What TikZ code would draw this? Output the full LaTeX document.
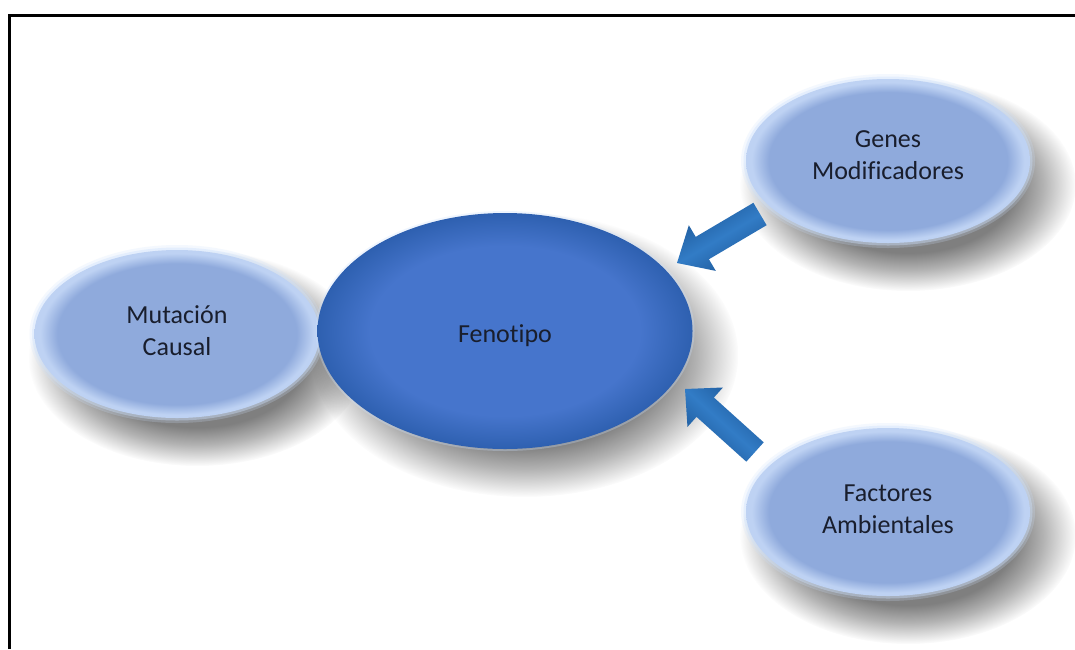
\documentclass[tikz,border=0pt]{standalone}
\usepackage{fontspec}
\setmainfont{Carlito}[Ligatures={NoCommon}]
\usetikzlibrary{shapes.geometric,calc,fadings}

\definecolor{pale}{RGB}{143,170,220}
\definecolor{palerim}{RGB}{190,210,243}
\definecolor{glow}{RGB}{205,225,252}
\definecolor{deep}{RGB}{70,117,204}
\definecolor{deepedge}{RGB}{46,96,176}
\definecolor{arrowblue}{RGB}{50,124,198}
\definecolor{arrowdark}{RGB}{28,86,150}
\definecolor{inktext}{RGB}{25,30,45}

% light bubbles: flat fill with a pale rim
\pgfdeclareradialshading{paleshade}{\pgfpoint{0bp}{0bp}}{%
  color(0bp)=(pale); color(21bp)=(pale); color(24bp)=(palerim);
  color(25bp)=(palerim); color(50bp)=(palerim)}
% central bubble: darker towards the border
\pgfdeclareradialshading{deepshade}{\pgfpoint{0bp}{0bp}}{%
  color(0bp)=(deep); color(18bp)=(deep); color(25bp)=(deepedge);
  color(50bp)=(deepedge)}
% soft, blurred drop shadow
\pgfdeclareradialshading{softshadowshade}{\pgfpoint{0bp}{0bp}}{%
  color(0bp)=(pgftransparent!0); color(16bp)=(pgftransparent!0);
  color(20bp)=(pgftransparent!40); color(25bp)=(pgftransparent!100);
  color(50bp)=(pgftransparent!100)}
\pgfdeclarefading{softshadow}{\pgfuseshading{softshadowshade}}

% block arrow from tail #1 to tip #2, shaded across its width (#3)
\newcommand{\fatarrow}[3]{%
  \coordinate (#1-h) at ($(#1)!67pt!(#2)$);
  \path[arrowbody, shading angle=#3]
    ($(#1)!13pt!90:(#2)$) --
    ($(#1-h)!13pt!90:(#2)$) --
    ($(#1-h)!26.5pt!90:(#2)$) --
    (#2) --
    ($(#1-h)!26.5pt!-90:(#2)$) --
    ($(#1-h)!13pt!-90:(#2)$) --
    ($(#1)!13pt!-90:(#2)$) -- cycle;
}
% shadow cast by a bubble centred at #1, of size #2 x #3
\newcommand{\castshadow}[3]{%
  \fill[black, opacity=0.5, path fading=softshadow]
    ($(#1)+(20,24)$) ellipse [x radius=#2/2+26, y radius=#3/2+24];
}

\begin{document}
\begin{tikzpicture}[x=1pt,y=-1pt,
  bubble/.style={ellipse, inner sep=0pt,
      preaction={draw=glow, line width=10pt, draw opacity=0.22},
      preaction={draw=glow, line width=5pt, draw opacity=0.4},
      shading=paleshade},
  bigbubble/.style={ellipse, inner sep=0pt,
      preaction={draw=glow, line width=4pt, draw opacity=0.3},
      shading=deepshade},
  lbl/.style={anchor=base, align=center, text=inktext,
      font=\fontsize{26}{32}\selectfont},
  arrowbody/.style={top color=arrowdark, bottom color=arrowdark,
      middle color=arrowblue},
  frameline/.style={line width=3pt, black}]

\useasboundingbox (0,0) rectangle (1075,649);
\fill[white] (0,0) rectangle (1075,649);

% page frame
\draw[frameline] (9.5,649) -- (9.5,15.5) -- (1075,15.5);

% bubble centres
\coordinate (cm) at (177,334);
\coordinate (cf) at (505,331);
\coordinate (cg) at (888,161);
\coordinate (ca) at (888,512);

% drop shadows
\castshadow{cm}{285}{168}
\castshadow{cf}{375}{236}
\castshadow{cg}{284}{164}
\castshadow{ca}{284}{168}

% bubbles
\node[bubble, minimum width=285pt, minimum height=168pt] (mut) at (cm) {};
\node[bigbubble, minimum width=375pt, minimum height=236pt] (feno) at (cf) {};
\node[bubble, minimum width=284pt, minimum height=164pt] (genes) at (cg) {};
\node[bubble, minimum width=284pt, minimum height=168pt] (fact) at (ca) {};

% labels (anchored at the baseline of the last line)
\node[lbl] (mutT) at (177,355) {Mutación\\Causal};
\node[lbl] (fenoT) at (505,342) {Fenotipo};
\node[lbl] (genesT) at (888,179) {Genes\\Modificadores};
\node[lbl] (factT) at (888,533) {Factores\\Ambientales};

% arrows pointing into the phenotype
\coordinate (ta) at (760,214);
\coordinate (pa) at (677,263);
\coordinate (tb) at (755,452);
\coordinate (pb) at (685,389);
\fatarrow{ta}{pa}{30.6}
\fatarrow{tb}{pb}{-42}
\end{tikzpicture}
\end{document}
